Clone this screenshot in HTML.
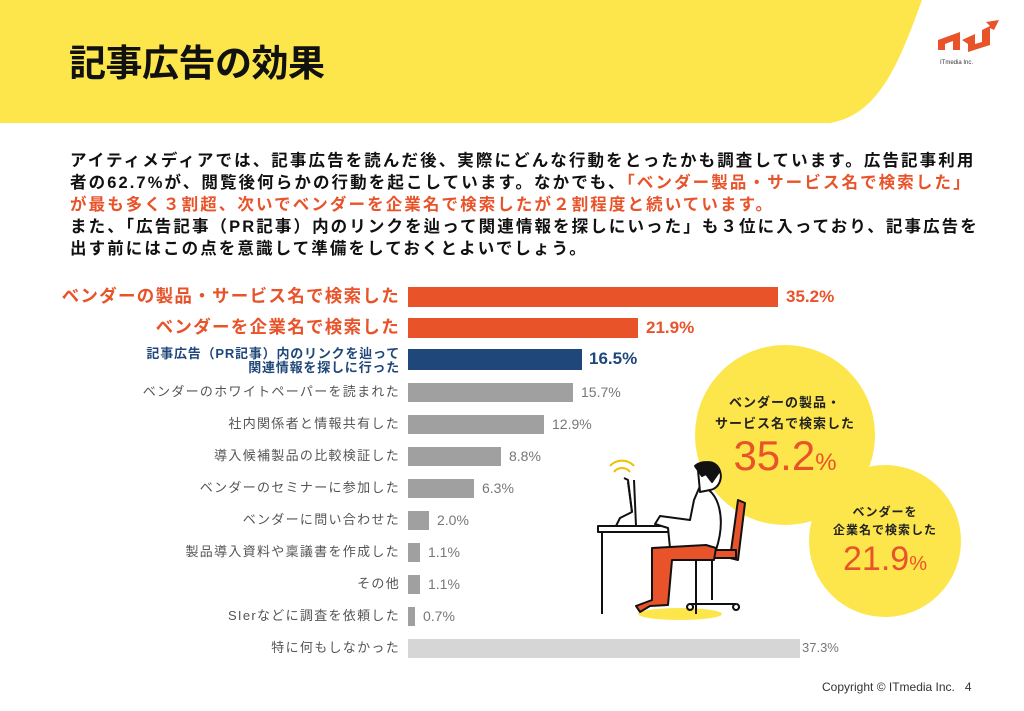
<!DOCTYPE html>
<html><head><meta charset="utf-8"><style>
body{margin:0;width:1024px;height:711px;overflow:hidden;background:#fff;font-family:"Liberation Sans","Noto Sans CJK JP",sans-serif;position:relative}
.a{position:absolute;white-space:nowrap}
.p{left:70px;font-size:16.5px;font-weight:bold;color:#111;letter-spacing:2.1px}
.r{color:#e8532a}
.lab{right:624px;text-align:right;font-size:13px;color:#555;letter-spacing:1.3px;line-height:14px}
.bar{position:absolute;left:408px}
.v{font-size:14px;color:#777}
</style></head><body>
<svg class="a" style="left:0;top:0" width="1024" height="711">
<path d="M0 0 H922 C900 60 880 115 830 123 H0 Z" fill="#fde64b"/>
<g fill="#e8532a"><path d="M938 50 L938 40 L960 32 L960 50 L953 50 L953 41 L945 44 L945 50Z"/><path d="M962 40 L975 34 L975 44 L982 42 L982 30 L990 26 L986 22 L999 20 L994 30 L990 28 L990 45 L968 52 L968 44 Z"/></g>
<text x="940" y="64" font-size="6" fill="#333" font-family="Liberation Sans">ITmedia Inc.</text>
<circle cx="785" cy="435" r="90" fill="#fde64b"/>
<circle cx="885" cy="541" r="76" fill="#fde64b"/>
<ellipse cx="680" cy="614" rx="42" ry="6" fill="#fde64b"/>
<g stroke="#111" stroke-width="2" fill="none" stroke-linejoin="round">
<path d="M614 472 a10 10 0 0 1 16 0 M610 466 a16 16 0 0 1 24 0" stroke="#f0c000"/>
<path d="M624 478 L628 480 L632 512 L620 518 L616 526 L636 526 L634 480" fill="#fff"/>
<path d="M628 482 L632 512" />
<rect x="598" y="526" width="108" height="6" fill="#fff"/>
<path d="M602 532 V614 M696 532 V614"/>
<path d="M738 500 L745 503 L738 560 L730 558 Z" fill="#e8532a"/>
<path d="M688 550 L736 550 L736 558 L688 558 Z" fill="#e8532a"/>
<path d="M712 558 V600 M690 604 L736 604 M690 604 a3 3 0 1 0 0.1 0 M736 604 a3 3 0 1 0 0.1 0"/>
<path d="M700 486 C720 490 726 520 716 550 L670 548 L668 528 L655 524 L660 516 L690 520 L694 500 Z" fill="#fff"/>
<path d="M698 470 a12 14 0 1 1 12 20 L700 492 Z" fill="#fff"/>
<path d="M695 466 a14 12 0 0 1 24 6 L712 482 L706 474 L702 476 Z" fill="#111"/>
<path d="M706 545 L716 548 L714 560 L672 560 L668 605 L650 606 L640 612 L636 606 L652 600 L652 548 Z" fill="#e8532a"/>
</g>
</svg>
<div class="a" style="left:69px;top:33px;font-size:37px;font-weight:bold;color:#111;letter-spacing:-0.5px">記事広告の効果</div>
<div class="a p" style="top:147px">アイティメディアでは、記事広告を読んだ後、実際にどんな行動をとったかも調査しています。広告記事利用</div>
<div class="a p" style="top:169px">者の62.7%が、閲覧後何らかの行動を起こしています。なかでも、<span class="r">「ベンダー製品・サービス名で検索した」</span></div>
<div class="a p r" style="top:191px">が最も多く３割超、次いでベンダーを企業名で検索したが２割程度と続いています。</div>
<div class="a p" style="top:213px">また、「広告記事（PR記事）内のリンクを辿って関連情報を探しにいった」も３位に入っており、記事広告を</div>
<div class="a p" style="top:235px">出す前にはこの点を意識して準備をしておくとよいでしょう。</div>

<div class="a lab" style="top:286px;font-size:17.5px;font-weight:bold;color:#e8532a;line-height:20px;letter-spacing:1.3px">ベンダーの製品・サービス名で検索した</div>
<div class="bar" style="top:287px;width:370px;height:20px;background:#e8532a"></div>
<div class="a" style="left:786px;top:287px;font-size:17px;font-weight:bold;color:#e8532a">35.2%</div>
<div class="a lab" style="top:317px;font-size:17.5px;font-weight:bold;color:#e8532a;line-height:20px;letter-spacing:1.3px">ベンダーを企業名で検索した</div>
<div class="bar" style="top:318px;width:230px;height:20px;background:#e8532a"></div>
<div class="a" style="left:646px;top:318px;font-size:17px;font-weight:bold;color:#e8532a">21.9%</div>
<div class="a lab" style="top:347px;font-weight:bold;color:#1f477a;letter-spacing:0.8px">記事広告（PR記事）内のリンクを辿って<br>関連情報を探しに行った</div>
<div class="bar" style="top:349px;width:174px;height:21px;background:#1f477a"></div>
<div class="a" style="left:589px;top:349px;font-size:17px;font-weight:bold;color:#1f477a">16.5%</div>
<div class="a lab" style="top:385px">ベンダーのホワイトペーパーを読まれた</div>
<div class="bar" style="top:383px;width:165px;height:19px;background:#a0a0a0"></div><div class="a v" style="left:581px;top:384px">15.7%</div>
<div class="a lab" style="top:417px">社内関係者と情報共有した</div>
<div class="bar" style="top:415px;width:136px;height:19px;background:#a0a0a0"></div><div class="a v" style="left:552px;top:416px">12.9%</div>
<div class="a lab" style="top:449px">導入候補製品の比較検証した</div>
<div class="bar" style="top:447px;width:93px;height:19px;background:#a0a0a0"></div><div class="a v" style="left:509px;top:448px">8.8%</div>
<div class="a lab" style="top:481px">ベンダーのセミナーに参加した</div>
<div class="bar" style="top:479px;width:66px;height:19px;background:#a0a0a0"></div><div class="a v" style="left:482px;top:480px">6.3%</div>
<div class="a lab" style="top:513px">ベンダーに問い合わせた</div>
<div class="bar" style="top:511px;width:21px;height:19px;background:#a0a0a0"></div><div class="a v" style="left:437px;top:512px">2.0%</div>
<div class="a lab" style="top:545px">製品導入資料や稟議書を作成した</div>
<div class="bar" style="top:543px;width:12px;height:19px;background:#a0a0a0"></div><div class="a v" style="left:428px;top:544px">1.1%</div>
<div class="a lab" style="top:577px">その他</div>
<div class="bar" style="top:575px;width:12px;height:19px;background:#a0a0a0"></div><div class="a v" style="left:428px;top:576px">1.1%</div>
<div class="a lab" style="top:609px">SIerなどに調査を依頼した</div>
<div class="bar" style="top:607px;width:7px;height:19px;background:#a0a0a0"></div><div class="a v" style="left:423px;top:608px">0.7%</div>
<div class="a lab" style="top:641px">特に何もしなかった</div>
<div class="bar" style="top:639px;width:392px;height:19px;background:#d6d6d6"></div><div class="a v" style="left:802px;top:640px;font-size:13px">37.3%</div>

<div class="a" style="left:695px;top:392px;width:180px;text-align:center;font-size:13px;font-weight:bold;color:#222;line-height:21px;letter-spacing:1px">ベンダーの製品・<br>サービス名で検索した</div>
<div class="a" style="left:695px;top:432px;width:180px;text-align:center;font-size:42px;color:#e8532a">35.2<span style="font-size:24px">%</span></div>
<div class="a" style="left:809px;top:503px;width:152px;text-align:center;font-size:12px;font-weight:bold;color:#222;line-height:18px;letter-spacing:1px">ベンダーを<br>企業名で検索した</div>
<div class="a" style="left:809px;top:540px;width:152px;text-align:center;font-size:34px;color:#e8532a">21.9<span style="font-size:20px">%</span></div>
<div class="a" style="left:822px;top:680px;font-size:12px;color:#333">Copyright © ITmedia Inc.&nbsp;&nbsp;&nbsp;4</div>
</body></html>
